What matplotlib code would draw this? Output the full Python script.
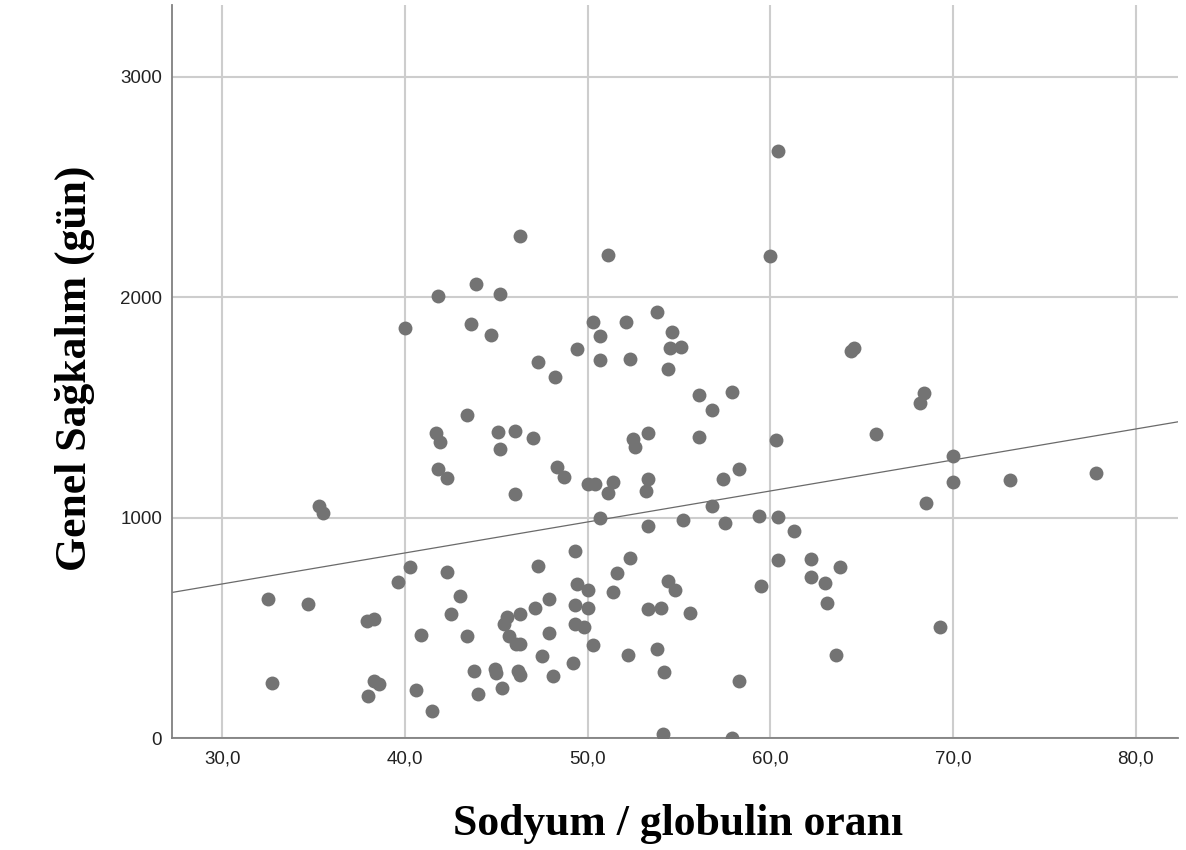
import matplotlib
matplotlib.use('Agg')
import matplotlib.pyplot as plt
import numpy as np

# --- data ---
sodium_globulin = [
    60.4, 51.1, 60.0, 46.3, 43.9, 41.8, 45.2, 40.0, 43.6, 44.7,
    47.3, 48.2, 53.8, 50.3, 52.1, 50.7, 54.6, 49.4, 54.5, 55.1,
    64.4, 64.6, 50.7, 52.3, 54.4, 56.1, 57.9, 56.8, 68.4, 68.2,
    52.5, 52.6, 53.3, 56.1, 60.3, 65.8, 50.0, 50.4, 51.4, 51.1,
    53.3, 53.2, 57.4, 58.3, 70.0, 70.0, 73.1, 77.8, 68.5, 50.7,
    53.3, 55.2, 56.8, 57.5, 59.4, 60.4, 61.3, 49.3, 52.3, 51.6,
    60.4, 62.2, 63.8, 62.2, 63.0, 63.1, 59.5, 49.4, 50.0, 51.4,
    54.4, 54.8, 49.3, 50.0, 53.3, 54.0, 55.6, 49.3, 49.8, 69.3,
    50.3, 52.2, 53.8, 63.6, 49.2, 54.2, 58.3, 54.1, 57.9, 43.4,
    41.7, 41.9, 45.1, 46.0, 47.0, 45.2, 41.8, 42.3, 48.3, 48.7,
    46.0, 35.3, 35.5, 40.3, 42.3, 47.3, 39.6, 32.5, 34.7, 43.0,
    47.9, 37.9, 38.3, 42.5, 45.6, 46.3, 47.1, 45.4, 40.9, 43.4,
    45.7, 46.1, 46.3, 47.9, 47.5, 32.7, 38.3, 38.6, 38.0, 40.6,
    43.8, 44.9, 45.0, 46.2, 46.3, 45.3, 44.0, 48.1, 41.5,
]
survival_days = [
    2665, 2191, 2188, 2279, 2061, 2005, 2013, 1860, 1880, 1827,
    1705, 1639, 1931, 1889, 1889, 1824, 1841, 1765, 1768, 1773,
    1757, 1770, 1717, 1720, 1676, 1555, 1571, 1487, 1566, 1521,
    1359, 1320, 1386, 1368, 1355, 1382, 1152, 1152, 1163, 1113,
    1175, 1120, 1178, 1220, 1279, 1161, 1172, 1202, 1068, 998,
    962, 989, 1053, 977, 1010, 1005, 942, 852, 820, 751,
    810, 812, 776, 733, 706, 612, 692, 698, 674, 665,
    713, 675, 607, 592, 588, 591, 568, 520, 506, 506,
    423, 378, 404, 378, 341, 303, 260, 22, 4, 1465,
    1385, 1342, 1388, 1395, 1362, 1313, 1222, 1179, 1232, 1186,
    1110, 1056, 1023, 778, 755, 783, 708, 633, 609, 644,
    633, 534, 543, 562, 552, 562, 591, 521, 471, 466,
    464, 426, 426, 479, 373, 253, 262, 246, 194, 221,
    304, 316, 295, 305, 290, 230, 200, 284, 126,
]
fit_intercept = 279.0
fit_slope = 14.05

x_ticks = [30, 40, 50, 60, 70, 80]
x_tick_labels = ['30,0', '40,0', '50,0', '60,0', '70,0', '80,0']
y_ticks = [0, 1000, 2000, 3000]
y_tick_labels = ['0', '1000', '2000', '3000']

x_label = 'Sodyum / globulin oranı'
y_label = 'Genel Sağkalım (gün)'

# --- figure ---
fig = plt.figure(figsize=(11.86, 8.5), dpi=100)
ax = fig.add_axes([0.145, 0.1312, 0.8482, 0.863])
x_min, x_max = 27.25, 82.3
ax.set_xlim(x_min, x_max)
ax.set_ylim(0, 3325)

ax.grid(True, color='#cdcdcd', linewidth=1.5, zorder=0)
ax.set_axisbelow(True)

ax.scatter(sodium_globulin, survival_days, s=100, color='#737373',
           linewidths=0, zorder=3)

xs = np.array([x_min, x_max])
ax.plot(xs, fit_intercept + fit_slope * xs, color='#6a6a6a',
        linewidth=0.9, zorder=2)

for side in ('top', 'right'):
    ax.spines[side].set_visible(False)
for side in ('left', 'bottom'):
    ax.spines[side].set_color('#808080')
    ax.spines[side].set_linewidth(1.3)

ax.set_xticks(x_ticks)
ax.set_xticklabels(x_tick_labels)
ax.set_yticks(y_ticks)
ax.set_yticklabels(y_tick_labels)
ax.tick_params(axis='both', length=0, labelsize=13.5, labelcolor='#222222')
ax.tick_params(axis='x', pad=9)
ax.tick_params(axis='y', pad=7)
for lab in ax.get_xticklabels() + ax.get_yticklabels():
    lab.set_family(['Liberation Sans', 'DejaVu Sans'])

ax.set_xlabel(x_label, family=['Liberation Serif', 'DejaVu Serif'],
              fontweight='bold', fontsize=31.5, color='black')
ax.xaxis.label.set_va('baseline')
ax.xaxis.set_label_coords(0.503, -0.1316)

ax.set_ylabel(y_label, family=['Liberation Serif', 'DejaVu Serif'],
              fontweight='bold', fontsize=31.5, color='black')
ax.yaxis.label.set_va('center')
ax.yaxis.set_label_coords(-0.0964, 0.505)

fig.savefig('out.png', dpi=100)
